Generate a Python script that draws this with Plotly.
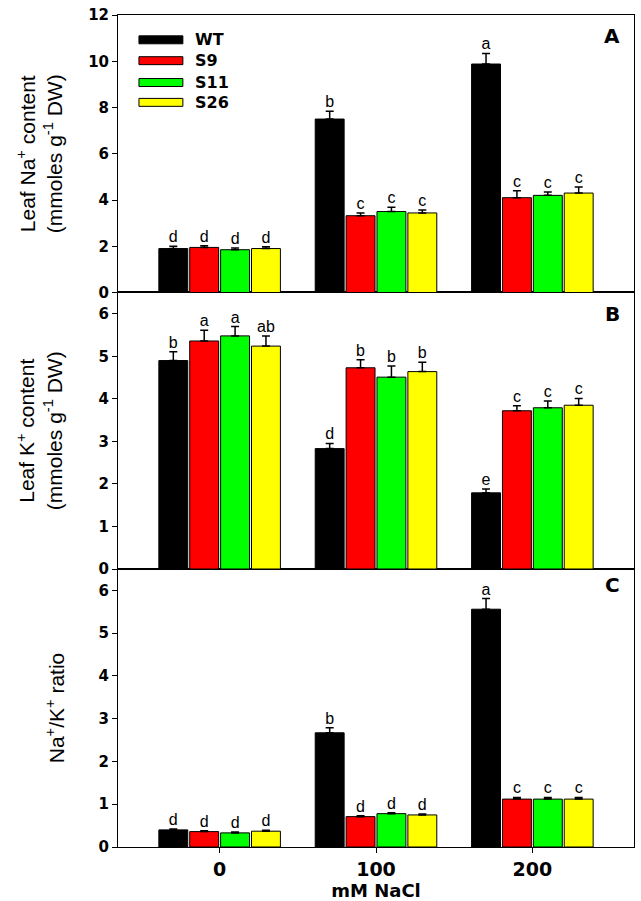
import plotly.graph_objects as go

categories = [0, 100, 200]
cat_labels = ["0", "100", "200"]
genotypes = ["WT", "S9", "S11", "S26"]
colors = ["#000000", "#FF0000", "#00FF00", "#FFFF00"]

# Panel A: Leaf Na+ content
na_vals = {"WT": [1.9, 7.5, 9.88], "S9": [1.95, 3.32, 4.1], "S11": [1.85, 3.5, 4.2], "S26": [1.9, 3.44, 4.3]}
na_err = {"WT": [0.1, 0.34, 0.46], "S9": [0.07, 0.12, 0.3], "S11": [0.07, 0.19, 0.15], "S26": [0.08, 0.13, 0.26]}
na_let = {"WT": ["d", "b", "a"], "S9": ["d", "c", "c"], "S11": ["d", "c", "c"], "S26": ["d", "c", "c"]}

# Panel B: Leaf K+ content
k_vals = {"WT": [4.9, 2.83, 1.79], "S9": [5.36, 4.73, 3.72], "S11": [5.48, 4.51, 3.79], "S26": [5.24, 4.64, 3.85]}
k_err = {"WT": [0.21, 0.12, 0.09], "S9": [0.25, 0.19, 0.12], "S11": [0.22, 0.26, 0.16], "S26": [0.24, 0.22, 0.16]}
k_let = {"WT": ["b", "d", "e"], "S9": ["a", "b", "c"], "S11": ["a", "b", "c"], "S26": ["ab", "b", "c"]}

# Panel C: Na+/K+ ratio
r_vals = {"WT": [0.4, 2.67, 5.56], "S9": [0.36, 0.71, 1.12], "S11": [0.33, 0.78, 1.12], "S26": [0.37, 0.75, 1.12]}
r_err = {"WT": [0.02, 0.12, 0.25], "S9": [0.02, 0.02, 0.04], "S11": [0.02, 0.02, 0.04], "S26": [0.02, 0.02, 0.04]}
r_let = {"WT": ["d", "b", "a"], "S9": ["d", "d", "c"], "S11": ["d", "d", "c"], "S26": ["d", "d", "c"]}

W, H = 641, 901
ML, MR, MT, MB = 118, 6, 9, 54
PW, PH = W - ML - MR, H - MT - MB

def py(p):
    return (H - MB - p) / PH

def px(p):
    return (p - ML) / PW

bar_w = 0.185
step = 0.1975
xpos = list(range(len(categories)))

fig = go.Figure()

panels = [
    ("x3", "y3", na_vals, na_err, na_let),
    ("x2", "y2", k_vals, k_err, k_let),
    ("x", "y", r_vals, r_err, r_let),
]

for xa, ya, vals, errs, lets in panels:
    for i, g in enumerate(genotypes):
        center = (i - 1.5) * step
        fig.add_trace(go.Bar(
            x=xpos, y=vals[g], width=[bar_w] * 3, offset=center - bar_w / 2,
            marker=dict(color=colors[i], line=dict(color="#000000", width=1)),
            error_y=dict(type="data", array=errs[g], arrayminus=[0] * 3, symmetric=False,
                         color="#000000", thickness=1.5, width=4),
            xaxis=xa, yaxis=ya, showlegend=False, name=g,
        ))
        fig.add_trace(go.Scatter(
            x=[c + center for c in xpos], y=[v + e for v, e in zip(vals[g], errs[g])],
            text=lets[g], mode="text", textposition="top center",
            textfont=dict(family="Arial, Liberation Sans", size=16, color="#000000"),
            xaxis=xa, yaxis=ya, showlegend=False, hoverinfo="skip",
        ))

xr = [-0.65, 2.65]
dC = [0, py(567)]
dB = [py(567), py(288.5)]
dA = [py(288.5), 1]

tickfont = dict(family="DejaVu Sans", size=15, color="#000000")
titlefont = dict(family="Arial, Liberation Sans", size=21, color="#000000")
common_x = dict(range=xr, showline=True, linecolor="#000000", linewidth=1, mirror=True,
                showgrid=False, zeroline=False)
common_y = dict(showline=True, linecolor="#000000", linewidth=1, mirror=True, showgrid=False,
                zeroline=False, ticks="outside", ticklen=5, tickcolor="#000000", tickwidth=1,
                tickfont=tickfont)

fig.update_layout(
    width=W, height=H, margin=dict(l=ML, r=MR, t=MT, b=MB),
    paper_bgcolor="white", plot_bgcolor="white", barmode="overlay",
    xaxis=dict(common_x, domain=[0, 1], anchor="y", ticks="outside", ticklen=5,
               tickcolor="#000000", tickvals=xpos, ticktext=["<b>%s</b>" % t for t in cat_labels],
               tickfont=dict(family="DejaVu Sans", size=19, color="#000000"),
               title=dict(text="<b>mM NaCl</b>", font=dict(family="DejaVu Sans", size=18, color="#000000"), standoff=0)),
    xaxis2=dict(common_x, domain=[0, 1], anchor="y2", showticklabels=False, ticks=""),
    xaxis3=dict(common_x, domain=[0, 1], anchor="y3", showticklabels=False, ticks=""),
    yaxis=dict(common_y, domain=dC, anchor="x", range=[0, 6.5],
               tickvals=[0, 1, 2, 3, 4, 5, 6], ticktext=["<b>%d</b>" % v for v in range(7)],
               title=dict(text="Na<sup>+</sup>/K<sup>+</sup> ratio", font=titlefont, standoff=28)),
    yaxis2=dict(common_y, domain=dB, anchor="x2", range=[0, 6.5],
                tickvals=[0, 1, 2, 3, 4, 5, 6], ticktext=["<b>%d</b>" % v for v in range(7)],
                title=dict(text="Leaf K<sup>+</sup> content<br>(mmoles g<sup>-1</sup> DW)", font=titlefont, standoff=30)),
    yaxis3=dict(common_y, domain=dA, anchor="x3", range=[0, 12],
                tickvals=[0, 2, 4, 6, 8, 10, 12], ticktext=["<b>%d</b>" % v for v in range(0, 13, 2)],
                title=dict(text="Leaf Na<sup>+</sup> content<br>(mmoles g<sup>-1</sup> DW)", font=titlefont, standoff=19)),
)

# Panel letters
for lab, ypix in [("A", 30), ("B", 310), ("C", 583)]:
    fig.add_annotation(x=px(623), y=py(ypix), xref="paper", yref="paper", text="<b>%s</b>" % lab,
                       showarrow=False, xanchor="right", yanchor="middle",
                       font=dict(family="DejaVu Sans", size=20, color="#000000"))

# Manual legend in panel A
leg_y = [34, 55, 77, 97]
for i, g in enumerate(genotypes):
    yc = leg_y[i]
    fig.add_shape(type="rect", xref="paper", yref="paper",
                  x0=px(139), x1=px(183), y0=py(yc + 4), y1=py(yc - 4),
                  fillcolor=colors[i], line=dict(color="#000000", width=1))
    fig.add_annotation(x=px(193), y=py(yc), xref="paper", yref="paper", text="<b>%s</b>" % g,
                       showarrow=False, xanchor="left", yanchor="middle",
                       font=dict(family="DejaVu Sans", size=16, color="#000000"))

fig.write_html("out.html", config={"displayModeBar": False},
               post_script="document.body.style.margin='0px';document.body.style.overflow='hidden';")
